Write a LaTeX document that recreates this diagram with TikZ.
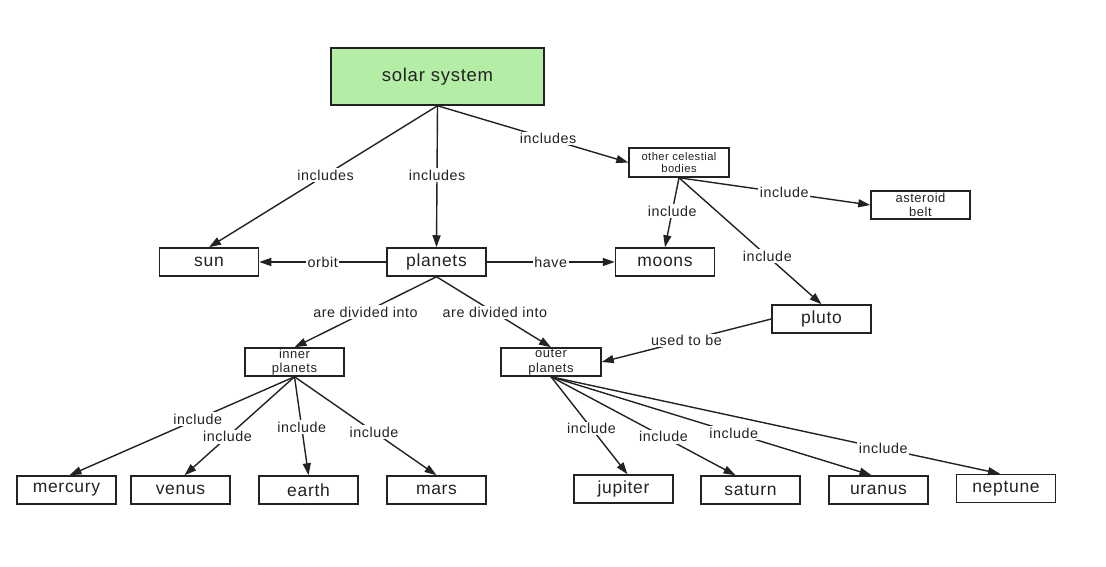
\documentclass[tikz,border=0pt]{standalone}
\usepackage{fontspec}
\setmainfont{Liberation Sans}[LetterSpace=4]
\usetikzlibrary{arrows.meta}
\definecolor{solargreen}{RGB}{180,238,166}
\definecolor{inkc}{RGB}{34,34,34}
\begin{document}
\begin{tikzpicture}[x=1pt,y=-1pt,
  box/.style={draw=inkc, line width=1.5pt, minimum width=99pt, minimum height=28pt,
    inner sep=0pt, text=inkc, font=\fontsize{17.5}{19}\selectfont, align=center},
  smallbox/.style={box, font=\fontsize{13}{14.5}\selectfont},
  tinybox/.style={box, font=\fontsize{11.2}{11.5}\selectfont},
  arr/.style={draw=inkc, line width=1.4pt, -{Triangle[length=12pt,width=8pt]}},
  lbl/.style={fill=white, inner sep=1.5pt, text=inkc, font=\fontsize{14.3}{16}\selectfont}]
\useasboundingbox (0,0) rectangle (1106,567);
% nodes
\node[box, fill=solargreen, minimum width=213pt, minimum height=57pt,
  font=\fontsize{18.5}{20}\selectfont] (solar) at (437.5,76.5) {solar system};
\node[tinybox, minimum width=100pt, minimum height=29pt] (other) at (679,162.5) {other celestial\\bodies};
\node[smallbox] (asteroid) at (920.5,205) {asteroid\\belt};
\node[box] (sun) at (209,262) {sun};
\node[box] (planets) at (436.5,262) {planets};
\node[box] (moons) at (665,262) {moons};
\node[box] (pluto) at (821.5,319) {pluto};
\node[smallbox] (inner) at (294.5,362) {inner\\planets};
\node[smallbox, minimum width=100pt] (outer) at (551,362) {outer\\planets};
\node[box] (mercury) at (66.5,490) {mercury};
\node[box] (venus) at (180.5,490) {venus};
\node[box] (earth) at (308.5,490) {earth};
\node[box] (mars) at (436.5,490) {mars};
\node[box] (jupiter) at (623.5,489) {jupiter};
\node[box] (saturn) at (750.5,490) {saturn};
\node[box] (uranus) at (878.5,490) {uranus};
\node[box] (neptune) at (1006,488.5) {neptune};
% connectors
\draw[arr] (solar.south) -- node[lbl,pos=.49]{includes} (sun.north);
\draw[arr] (solar.south) -- node[lbl,pos=.49]{includes} (planets.north);
\draw[arr] (solar.south) -- node[lbl,pos=.58]{includes} (other.west);
\draw[arr] (other.south) -- node[lbl,pos=.48]{include} (moons.north);
\draw[arr] (other.south) -- node[lbl,pos=.55]{include} (asteroid.west);
\draw[arr] (other.south) -- node[lbl,pos=.62]{include} (pluto.north);
\draw[arr] (planets.west) -- node[lbl,pos=.5]{orbit} (sun.east);
\draw[arr] (planets.east) -- node[lbl,pos=.5]{have} (moons.west);
\draw[arr] (planets.south) -- node[lbl,pos=.5]{are divided into} (inner.north);
\draw[arr] (planets.south) -- node[lbl,pos=.51]{are divided into} (outer.north);
\draw[arr] (pluto.west) -- node[lbl,pos=.5]{used to be} (outer.east);
\draw[arr] (inner.south) -- node[lbl,pos=.43]{include} ([xshift=3pt]mercury.north);
\draw[arr] (inner.south) -- node[lbl,pos=.61]{include} ([xshift=4pt]venus.north);
\draw[arr] (inner.south) -- node[lbl,pos=.51]{include} (earth.north);
\draw[arr] (inner.south) -- node[lbl,pos=.56]{include} (mars.north);
\draw[arr] (outer.south) -- node[lbl,pos=.53]{include} ([xshift=4pt]jupiter.north);
\draw[arr] (outer.south) -- node[lbl,pos=.61]{include} ([xshift=-15pt]saturn.north);
\draw[arr] (outer.south) -- node[lbl,pos=.57]{include} ([xshift=-7pt]uranus.north);
\draw[arr] (outer.south) -- node[lbl,pos=.74]{include} ([xshift=-6pt]neptune.north);
\end{tikzpicture}
\end{document}
